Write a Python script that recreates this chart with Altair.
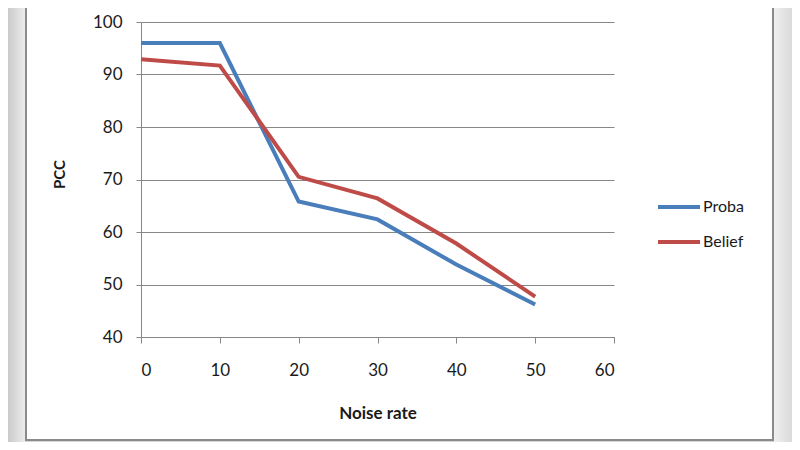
import altair as alt
import pandas as pd

noise = [0, 10, 20, 30, 40, 50]
proba = [96.0, 96.0, 65.8, 62.4, 53.8, 46.2]
belief = [92.9, 91.7, 70.5, 66.4, 57.8, 47.7]
series_names = ["Proba", "Belief"]
series_colors = ["#4a7ebb", "#be4b48"]
y_ticks = [40, 50, 60, 70, 80, 90, 100]
x_ticks = [0, 10, 20, 30, 40, 50, 60]

df = pd.DataFrame(
    {"noise": noise * 2,
     "pcc": proba + belief,
     "series": ["Proba"] * len(noise) + ["Belief"] * len(noise)}
)

FONT = "Lato"

x_enc = alt.X("noise:Q",
              scale=alt.Scale(domain=[0, 60], nice=False, zero=False),
              axis=alt.Axis(values=x_ticks, title="Noise rate", grid=False,
                            tickSize=6, labelPadding=19, titleY=81,
                            titleBaseline="alphabetic"))
y_enc = alt.Y("pcc:Q",
              scale=alt.Scale(domain=[40, 100], nice=False, zero=False),
              axis=alt.Axis(values=y_ticks, title="PCC", grid=True,
                            tickSize=5, labelPadding=14,
                            titleFontSize=15, titleX=-74, titleY=152,
                            titleBaseline="bottom"))
color_enc = alt.Color("series:N",
                      scale=alt.Scale(domain=series_names, range=series_colors),
                      legend=alt.Legend(title=None, orient="none",
                                        legendX=515, legendY=162,
                                        symbolType="stroke",
                                        symbolSize=1764,
                                        symbolStrokeWidth=4,
                                        labelFontSize=16, labelFont=FONT,
                                        labelColor="#1a1a1a",
                                        labelOffset=1, rowPadding=4))

base = alt.Chart(df)
line_p = base.transform_filter(alt.datum.series == "Proba").mark_line(
    strokeWidth=4, strokeJoin="miter").encode(x=x_enc, y=y_enc, color=color_enc)
line_b = base.transform_filter(alt.datum.series == "Belief").mark_line(
    strokeWidth=4, strokeJoin="miter").encode(x=x_enc, y=y_enc, color=color_enc)

dummy = alt.Chart(pd.DataFrame({"a": [0]}))
left_strip = dummy.mark_rect(
    fill=alt.Gradient(gradient="linear",
                      stops=[alt.GradientStop(color="#bcbcbc", offset=0),
                             alt.GradientStop(color="#ececec", offset=1)],
                      x1=0, x2=1, y1=0, y2=0)
).encode(x=alt.value(-140), x2=alt.value(-116), y=alt.value(-30), y2=alt.value(440))
right_strip = dummy.mark_rect(
    fill=alt.Gradient(gradient="linear",
                      stops=[alt.GradientStop(color="#f0f0f0", offset=0),
                             alt.GradientStop(color="#c2c2c2", offset=1)],
                      x1=0, x2=1, y1=0, y2=0)
).encode(x=alt.value(633), x2=alt.value(670), y=alt.value(-30), y2=alt.value(440))
bottom_strip = dummy.mark_rect(fill="#d6d6d6").encode(
    x=alt.value(-116), x2=alt.value(633), y=alt.value(419), y2=alt.value(440))
frame = dummy.mark_rect(fill="transparent", stroke="#8a8a8a", strokeWidth=2).encode(
    x=alt.value(-115), x2=alt.value(632), y=alt.value(-30), y2=alt.value(418))

chart = alt.layer(left_strip, right_strip, bottom_strip, frame, line_p, line_b).properties(
    width=473, height=315,
    autosize=alt.AutoSizeParams(type="none"),
    padding={"left": 133, "top": 14, "right": 178, "bottom": 105},
    background="white",
).configure_view(stroke=None).configure_axis(
    domainColor="#878787", tickColor="#878787", gridColor="#878787",
    gridWidth=1, domainWidth=1, tickWidth=1,
    labelFont=FONT, labelFontSize=17, labelColor="#1a1a1a",
    titleFont=FONT, titleFontSize=17, titleFontWeight="bold", titleColor="#1a1a1a",
)

chart.save("out.html", embed_options={"renderer": "svg", "actions": False})
